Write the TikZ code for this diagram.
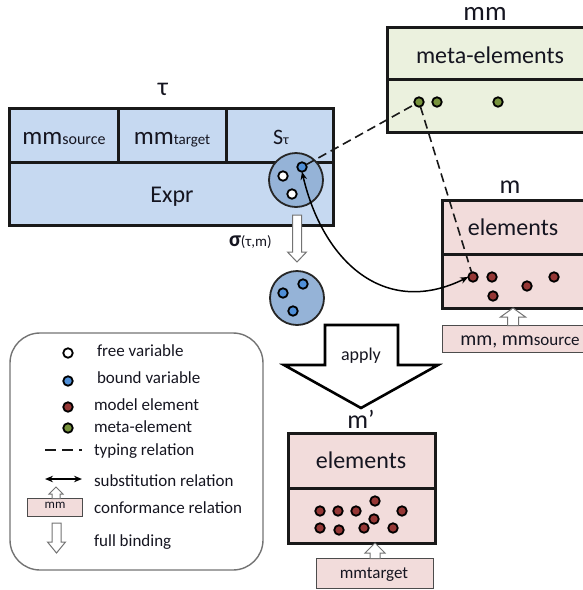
\documentclass[tikz,border=0pt]{standalone}
\usepackage{fontspec}
\setmainfont{Carlito}
\usetikzlibrary{arrows.meta}
\definecolor{taufill}{HTML}{C6D9F1}
\definecolor{circfill}{HTML}{95B3D7}
\definecolor{bluedot}{HTML}{4F8FD8}
\definecolor{reddot}{HTML}{953735}
\definecolor{greendot}{HTML}{77933C}
\definecolor{mmfill}{HTML}{EBF1DE}
\definecolor{mfill}{HTML}{F2DCDB}
\definecolor{txt}{HTML}{151520}
\newcommand\fsz[1]{\fontsize{#1}{#1}\selectfont}
\begin{document}
\begin{tikzpicture}[x=1pt,y=-1pt,
  every node/.style={inner sep=0pt,outer sep=0pt,text=txt},
  bigbox/.style={draw=black!90,line width=3pt},
  dot/.style={circle,draw=black,line width=1.8pt,minimum size=9.5pt},
  fv/.style={dot,fill=white},
  bv/.style={dot,fill=bluedot},
  me/.style={dot,fill=reddot},
  mt/.style={dot,fill=greendot},
  varcirc/.style={circle,draw=black!85,line width=1.8pt,fill=circfill,minimum size=54pt},
  confbox/.style={draw=black!70,line width=1pt,fill=mfill},
  hollow/.style={draw=black!55,line width=1pt,fill=white},
  typing/.style={dashed,dash pattern=on 9pt off 5pt,line width=1.6pt,draw=black!90},
  subst/.style={line width=1.5pt,draw=black,{Stealth[length=8pt,width=6.5pt]}-{Stealth[length=8pt,width=6.5pt]}},
  lab/.style={anchor=base},
  legtxt/.style={anchor=base west,font=\fsz{17}}
]
\useasboundingbox (0,0) rectangle (583,590);
\clip (0,0) rectangle (583,590);

% ---------- tau box ----------
\node[lab] (taulbl) at (163,95) {\fsz{26}τ};
\path[bigbox,fill=taufill] (9,108) rectangle (333,225);
\draw[bigbox] (9,162) -- (333,162);
\draw[bigbox] (118,108) -- (118,162);
\draw[bigbox] (226,108) -- (226,162);
\node[lab] (mmsrc) at (64,144) {{\fsz{25}mm}{\fsz{16}source}};
\node[lab] (mmtgt) at (172,144) {{\fsz{25}mm}{\fsz{15}target}};
\node[lab] (stau) at (281,144) {{\fsz{22}S}{\fsz{14}τ}};
\node[lab] (expr) at (172,202) {\fsz{24}Expr};

% variable circle S_tau
\node[varcirc] (sc) at (296,180) {};
\node[bv] (bd1) at (302,167) {};
\node[fv] (fd1) at (283,176) {};
\node[fv] (fd2) at (292,194) {};

% full binding arrow
\path[hollow] (292.5,215) -- (301.5,215) -- (301.5,252) -- (306.5,252) -- (297,262) -- (287.5,252) -- (292.5,252) -- cycle;
\node[anchor=base west] (sigma) at (229,246) {{\fsz{22}\textbf{σ}}{\fsz{15}(τ,m)}};

% bound circle
\node[varcirc] (bc) at (297,298) {};
\node[bv] (bb1) at (303,284) {};
\node[bv] (bb2) at (283,293) {};
\node[bv] (bb3) at (293,311) {};

% ---------- mm box ----------
\node[lab] (mmlbl) at (485,20) {\fsz{27}mm};
\path[bigbox,fill=mmfill] (387,27) rectangle (600,132);
\draw[bigbox] (387,79) -- (600,79);
\node[lab] (metael) at (490,63) {\fsz{24}meta-elements};
\node[mt] (g1) at (419,102) {};
\node[mt] (g2) at (437,102) {};
\node[mt] (g3) at (498,102) {};

% ---------- m box ----------
\node[lab] (mlbl) at (510,193) {\fsz{26}m};
\path[bigbox,fill=mfill] (442,200) rectangle (600,308);
\draw[bigbox] (442,254) -- (600,254);
\node[lab] (mel) at (513,235) {\fsz{24}elements};
\node[me] (r1) at (473,277) {};
\node[me] (r2) at (492,277) {};
\node[me] (r3) at (493,296) {};
\node[me] (r4) at (527,286) {};
\node[me] (r5) at (554,277) {};
\path[confbox] (442,325) rectangle (600,352);
\node[lab] (mmsrcbox) at (520,345) {{\fsz{20}mm, mm}{\fsz{17}source}};
\path[hollow] (507.5,325.5) -- (507.5,317) -- (500.5,317) -- (513,308) -- (525.5,317) -- (518.5,317) -- (518.5,325.5) -- cycle;

% ---------- relations ----------
\draw[typing] (bd1) -- (g1);
\draw[typing] (g1) -- (r1);
\draw[subst] (bd1.south) .. controls (323,262) and (385,318) .. (r1.west);

% ---------- apply arrow ----------
\path[draw=black,line width=2.6pt,fill=white,line join=miter] (325,325) -- (398,325) -- (398,365) -- (438,365) -- (361,408) -- (284,365) -- (325,365) -- cycle;
\node (apply) at (361,356) {\fsz{18}apply};

% ---------- m' box ----------
\node[lab] (mplbl) at (361,428) {\fsz{26}m’};
\path[bigbox,fill=mfill] (288,433) rectangle (435,543);
\draw[bigbox] (288,488) -- (435,488);
\node[lab] (mpel) at (361,468) {\fsz{24}elements};
\node[me] (p1) at (320,511) {};
\node[me] (p2) at (338,511) {};
\node[me] (p3) at (356,511) {};
\node[me] (p4) at (375,501) {};
\node[me] (p5) at (402,511) {};
\node[me] (p6) at (320,528) {};
\node[me] (p7) at (339,530) {};
\node[me] (p8) at (364,528) {};
\node[me] (p9) at (374,519) {};
\node[me] (p10) at (393,528) {};
\path[confbox] (316,558) rectangle (433,588);
\node[lab] (mmtgtbox) at (374,578) {\fsz{17}mmtarget};
\path[hollow] (370,558.5) -- (370,553) -- (365,553) -- (375,543) -- (385,553) -- (380,553) -- (380,558.5) -- cycle;

% ---------- legend ----------
\path[draw=black!55,line width=1.4pt,rounded corners=30pt] (10,333) rectangle (263,570);
\node[fv] (lfv) at (68,353) {};
\node[bv] (lbv) at (68,381) {};
\node[me] (lme) at (68,407) {};
\node[mt] (lmt) at (68,428) {};
\coordinate (ltA) at (45,450);
\coordinate (ltB) at (82,450);
\draw[typing,dash pattern=on 11pt off 6pt] (ltA) -- (ltB);
\coordinate (lsA) at (45,479);
\coordinate (lsB) at (82,479);
\draw[subst] (lsA) -- (lsB);
\path[confbox] (27,498) rectangle (82,516);
\node[lab] (lmm) at (55,508) {\fsz{13}mm};
\path[hollow] (52,498.5) -- (52,494) -- (49,494) -- (56,487) -- (63,494) -- (60,494) -- (60,498.5) -- cycle;
\path[hollow] (52,523) -- (61,523) -- (61,542) -- (65.5,542) -- (56.5,553) -- (47.5,542) -- (52,542) -- cycle;

\node[legtxt] (t1) at (97,356) {free variable};
\node[legtxt] (t2) at (97,383) {bound variable};
\node[legtxt] (t3) at (94,410) {model element};
\node[legtxt] (t4) at (94,432) {meta-element};
\node[legtxt] (t5) at (94,455) {typing relation};
\node[legtxt] (t6) at (94,486) {substitution relation};
\node[legtxt] (t7) at (94,513) {conformance relation};
\node[legtxt] (t8) at (94,546) {full binding};
\end{tikzpicture}
\end{document}
